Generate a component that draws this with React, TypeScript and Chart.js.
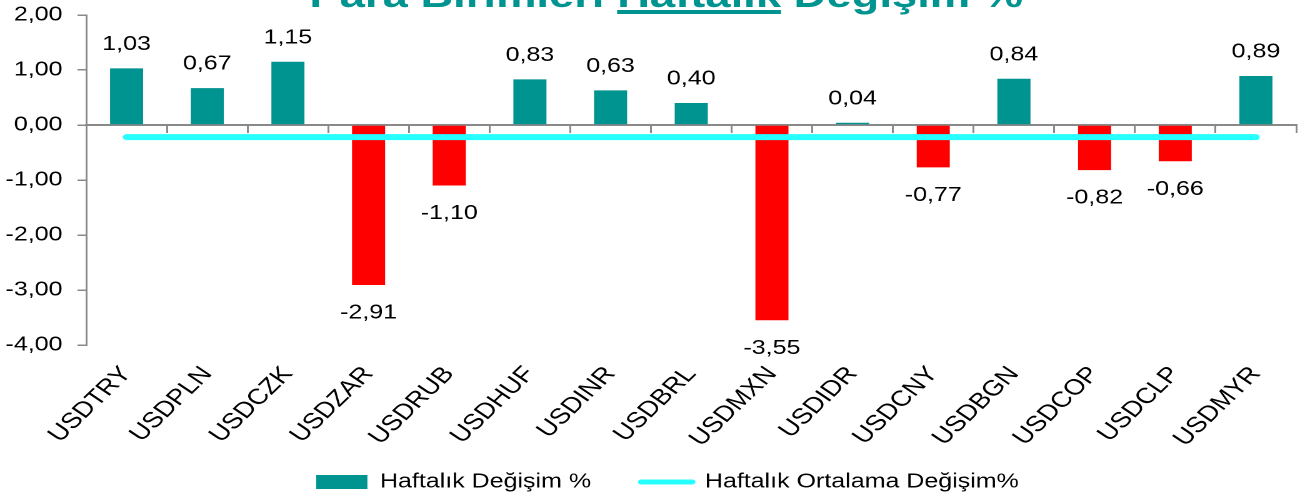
import React, { useEffect, useRef } from 'react';
import { Chart, registerables } from 'chart.js';

Chart.register(...registerables);

const categories = [
  'USDTRY', 'USDPLN', 'USDCZK', 'USDZAR', 'USDRUB', 'USDHUF', 'USDINR', 'USDBRL',
  'USDMXN', 'USDIDR', 'USDCNY', 'USDBGN', 'USDCOP', 'USDCLP', 'USDMYR',
];
const weeklyChange = [1.03, 0.67, 1.15, -2.91, -1.1, 0.83, 0.63, 0.4, -3.55, 0.04, -0.77, 0.84, -0.82, -0.66, 0.89];
const weeklyAverage = [-0.22, -0.22, -0.22, -0.22, -0.22, -0.22, -0.22, -0.22, -0.22, -0.22, -0.22, -0.22, -0.22, -0.22, -0.22];
const seriesNames = ['Haftalık Değişim %', 'Haftalık Ortalama Değişim%'];
const titleParts = ['Para Birimleri ', 'Haftalık', ' Değişim %'];
const yMin = -4;
const yMax = 2;
const yStep = 1;

const TEAL = '#009490';
const RED = '#FF0000';
const CYAN = '#26FFFF';
const AXIS = '#898989';
const FONT = "'Liberation Sans', Arial, sans-serif";

const fmt = (v: number) => v.toFixed(2).replace('.', ',');

export default function App() {
  const ref = useRef<HTMLCanvasElement>(null);

  useEffect(() => {
    const canvas = ref.current;
    if (!canvas) return;

    const titlePlugin = {
      id: 'titleUnderline',
      afterDraw(chart: any) {
        const ctx = chart.ctx;
        ctx.save();
        ctx.font = `bold 36.3px ${FONT}`;
        ctx.fillStyle = TEAL;
        ctx.textBaseline = 'alphabetic';
        ctx.textAlign = 'left';
        const widths = titleParts.map((t) => ctx.measureText(t).width);
        const total = widths.reduce((a, b) => a + b, 0);
        let x = 533 - total / 2;
        titleParts.forEach((t, i) => {
          ctx.fillText(t, x, 7);
          if (i === 1) ctx.fillRect(x, 10, widths[i], 4);
          x += widths[i];
        });
        ctx.restore();
      },
    };

    const layoutTweak = {
      id: 'layoutTweak',
      afterLayout(chart: any) {
        if (chart.legend) chart.legend.left = 31;
        const xs = chart.scales.x;
        if (xs) xs.bottom = xs.top + 115;
      },
    };

    const labelPlugin = {
      id: 'barValueLabels',
      afterDatasetsDraw(chart: any) {
        const ctx = chart.ctx;
        const meta = chart.getDatasetMeta(0);
        ctx.save();
        ctx.font = `20px ${FONT}`;
        ctx.fillStyle = '#000';
        ctx.textAlign = 'center';
        ctx.textBaseline = 'middle';
        meta.data.forEach((bar: any, i: number) => {
          const v = weeklyChange[i];
          const y = v >= 0 ? bar.y - 24 : bar.y + 28;
          ctx.fillText(fmt(v), bar.x, y);
        });
        ctx.restore();
      },
    };

    const chart = new Chart(canvas, {
      type: 'bar',
      data: {
        labels: categories,
        datasets: [
          {
            type: 'bar',
            label: seriesNames[0],
            data: weeklyChange,
            backgroundColor: (c: any) => (c.raw < 0 ? RED : TEAL),
            barPercentage: 0.41,
            categoryPercentage: 1,
            order: 2,
            xAxisID: 'x',
            yAxisID: 'y',
          } as any,
          {
            type: 'line',
            label: seriesNames[1],
            data: weeklyAverage,
            borderColor: CYAN,
            backgroundColor: CYAN,
            borderWidth: 6,
            borderCapStyle: 'round',
            pointRadius: 0,
            fill: false,
            order: 1,
            xAxisID: 'x',
            yAxisID: 'y',
          } as any,
        ],
      },
      options: {
        responsive: false,
        devicePixelRatio: 2,
        animation: false,
        layout: { padding: { left: 0, right: 3, top: 15, bottom: 0 } },
        scales: {
          x: {
            type: 'category',
            position: 'bottom',
            offset: true,
            grid: { display: false, drawTicks: false },
            border: { display: false },
            ticks: {
              autoSkip: false,
              minRotation: 50,
              maxRotation: 50,
              padding: 24,
              color: '#000',
              font: { family: FONT, size: 22, lineHeight: 0.15 },
            },
            afterFit: (s: any) => {
              s.height = 87;
            },
          },
          x0: {
            type: 'category',
            axis: 'x',
            position: { y: 0 },
            offset: true,
            grid: { display: true, drawOnChartArea: false, offset: true, tickLength: 7, color: AXIS, lineWidth: 1.5 },
            border: { display: true, color: AXIS, width: 2 },
            ticks: { display: false },
          } as any,
          y: {
            type: 'linear',
            position: 'left',
            min: yMin,
            max: yMax,
            ticks: {
              stepSize: yStep,
              padding: 12,
              color: '#000',
              font: { family: FONT, size: 20, lineHeight: 0.3 },
              callback: (v: any) => fmt(Number(v)),
            },
            grid: { display: true, drawOnChartArea: false, tickLength: 7, color: AXIS, lineWidth: 1.5 },
            border: { display: true, color: AXIS, width: 1.5 },
            afterFit: (s: any) => {
              s.width = 69;
            },
          },
        },
        plugins: {
          title: { display: false },
          tooltip: { enabled: false },
          legend: {
            position: 'bottom',
            labels: {
              usePointStyle: true,
              pointStyleWidth: 41,
              boxHeight: 14,
              padding: 40,
              color: '#000',
              font: { family: FONT, size: 20 },
              generateLabels: () => [
                { text: seriesNames[0], fillStyle: TEAL, strokeStyle: TEAL, lineWidth: 0, pointStyle: 'rect', hidden: false, datasetIndex: 0 },
                { text: seriesNames[1], fillStyle: CYAN, strokeStyle: CYAN, lineWidth: 5, lineCap: 'round', pointStyle: 'line', hidden: false, datasetIndex: 1 },
              ] as any,
            },
          },
        },
      } as any,
      plugins: [titlePlugin, labelPlugin, layoutTweak],
    });

    return () => chart.destroy();
  }, []);

  return (
    <div style={{ position: 'fixed', left: 0, top: 0, width: 1300, height: 502, background: '#fff' }}>
      <canvas ref={ref} width={1040} height={502} style={{ width: '1300px', height: '502px', display: 'block' }} />
    </div>
  );
}
